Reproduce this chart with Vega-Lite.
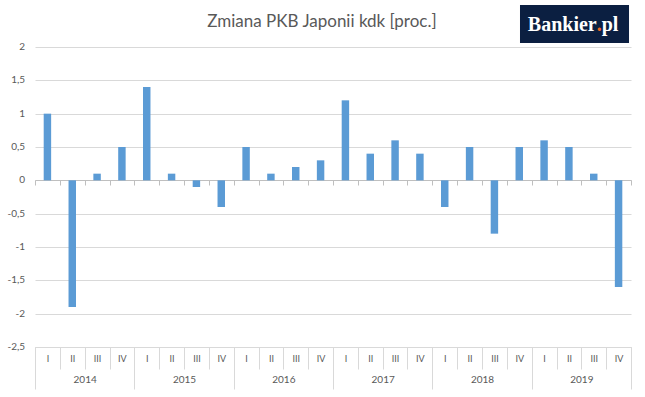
{
  "$schema": "https://vega.github.io/schema/vega-lite/v6.json",
  "width": 596,
  "height": 300,
  "autosize": {"type": "none"},
  "padding": {"left": 35, "top": 47, "right": 14, "bottom": 50},
  "background": "white",
  "config": {
    "view": {"stroke": null},
    "font": "Lato",
    "axis": {"labelFont": "Lato", "labelColor": "#595959"}
  },
  "title": {
    "text": "Zmiana PKB Japonii kdk [proc.]",
    "font": "Lato",
    "fontSize": 17,
    "fontWeight": "normal",
    "color": "#595959",
    "anchor": "middle",
    "frame": "group",
    "baseline": "alphabetic",
    "offset": -39,
    "dx": -11
  },
  "datasets": {
    "gdp": [
      {"key": "2014-I", "year": "2014", "value": 1.0},
      {"key": "2014-II", "year": "2014", "value": -1.9},
      {"key": "2014-III", "year": "2014", "value": 0.1},
      {"key": "2014-IV", "year": "2014", "value": 0.5},
      {"key": "2015-I", "year": "2015", "value": 1.4},
      {"key": "2015-II", "year": "2015", "value": 0.1},
      {"key": "2015-III", "year": "2015", "value": -0.1},
      {"key": "2015-IV", "year": "2015", "value": -0.4},
      {"key": "2016-I", "year": "2016", "value": 0.5},
      {"key": "2016-II", "year": "2016", "value": 0.1},
      {"key": "2016-III", "year": "2016", "value": 0.2},
      {"key": "2016-IV", "year": "2016", "value": 0.3},
      {"key": "2017-I", "year": "2017", "value": 1.2},
      {"key": "2017-II", "year": "2017", "value": 0.4},
      {"key": "2017-III", "year": "2017", "value": 0.6},
      {"key": "2017-IV", "year": "2017", "value": 0.4},
      {"key": "2018-I", "year": "2018", "value": -0.4},
      {"key": "2018-II", "year": "2018", "value": 0.5},
      {"key": "2018-III", "year": "2018", "value": -0.8},
      {"key": "2018-IV", "year": "2018", "value": 0.5},
      {"key": "2019-I", "year": "2019", "value": 0.6},
      {"key": "2019-II", "year": "2019", "value": 0.5},
      {"key": "2019-III", "year": "2019", "value": 0.1},
      {"key": "2019-IV", "year": "2019", "value": -1.6}
    ],
    "years": [
      {"year": "2014"}, {"year": "2015"}, {"year": "2016"},
      {"year": "2017"}, {"year": "2018"}, {"year": "2019"}
    ],
    "yticks": [
      {"v": 2, "label": "2"},
      {"v": 1.5, "label": "1,5"},
      {"v": 1, "label": "1"},
      {"v": 0.5, "label": "0,5"},
      {"v": 0, "label": "0"},
      {"v": -0.5, "label": "-0,5"},
      {"v": -1, "label": "-1"},
      {"v": -1.5, "label": "-1,5"},
      {"v": -2, "label": "-2"},
      {"v": -2.5, "label": "-2,5"}
    ],
    "logo": [{"brand": "Bankier", "dot": ".", "tld": "pl"}]
  },
  "resolve": {"scale": {"x": "independent"}, "axis": {"x": "independent"}},
  "layer": [
    {
      "data": {"name": "gdp"},
      "mark": {"type": "bar", "color": "#5b9bd5", "width": {"band": 0.3}},
      "encoding": {
        "x": {
          "field": "key", "type": "nominal", "sort": null,
          "scale": {"paddingInner": 0, "paddingOuter": 0},
          "axis": {
            "orient": "bottom", "title": null, "labelAngle": 0,
            "labelExpr": "split(datum.value, '-')[1]",
            "tickBand": "extent", "tickSize": 22, "tickColor": "#d9d9d9",
            "domainColor": "#d9d9d9", "labelPadding": -11, "labelBaseline": "middle",
            "labelFontSize": 9, "grid": false
          }
        },
        "y": {
          "field": "value", "type": "quantitative",
          "scale": {"domain": [-2.5, 2], "nice": false, "zero": false},
          "axis": {
            "title": null, "values": [-2.5, -2, -1.5, -1, -0.5, 0, 0.5, 1, 1.5, 2],
            "tickCount": 20, "labels": false,
            "grid": true, "gridColor": "#d9d9d9", "domain": false, "ticks": false
          }
        }
      }
    },
    {
      "data": {"name": "gdp"},
      "mark": {"type": "point", "opacity": 0},
      "encoding": {
        "x": {
          "field": "key", "type": "nominal", "sort": null,
          "scale": {"paddingInner": 0, "paddingOuter": 0},
          "axis": {
            "orient": "bottom", "offset": -167, "title": null, "labels": false,
            "tickBand": "extent", "tickSize": 5, "tickColor": "#bfbfbf",
            "domainColor": "#bfbfbf", "grid": false
          }
        },
        "y": {"field": "value", "type": "quantitative"}
      }
    },
    {
      "data": {"name": "years"},
      "mark": {"type": "point", "opacity": 0},
      "encoding": {
        "x": {
          "field": "year", "type": "nominal", "sort": null,
          "scale": {"paddingInner": 0, "paddingOuter": 0},
          "axis": {
            "orient": "bottom", "title": null, "labelAngle": 0,
            "tickBand": "extent", "tickSize": 42, "tickColor": "#d9d9d9",
            "domain": false, "labelPadding": -10, "labelBaseline": "middle",
            "labelFontSize": 10, "grid": false
          }
        },
        "y": {"datum": 0, "type": "quantitative"}
      }
    },
    {
      "data": {"name": "yticks"},
      "mark": {"type": "text", "color": "#595959", "font": "Lato", "fontSize": 10, "align": "right", "baseline": "middle"},
      "encoding": {
        "x": {"datum": -0.4, "type": "quantitative", "scale": {"domain": [0, 24]}, "axis": null},
        "y": {"field": "v", "type": "quantitative"},
        "text": {"field": "label"}
      }
    },
    {
      "data": {"name": "logo"},
      "mark": {"type": "rect", "color": "#0b1f41"},
      "encoding": {
        "x": {"datum": 19.53, "type": "quantitative", "scale": {"domain": [0, 24]}, "axis": null},
        "x2": {"datum": 23.92},
        "y": {"datum": 2.06, "type": "quantitative"},
        "y2": {"datum": 2.63}
      }
    },
    {
      "data": {"name": "logo"},
      "mark": {"type": "text", "color": "white", "font": "Liberation Serif", "fontWeight": "bold", "fontSize": 20, "baseline": "alphabetic", "align": "right"},
      "encoding": {
        "x": {"datum": 22.62, "type": "quantitative", "scale": {"domain": [0, 24]}, "axis": null},
        "y": {"datum": 2.24, "type": "quantitative"},
        "text": {"field": "brand"}
      }
    },
    {
      "data": {"name": "logo"},
      "mark": {"type": "text", "color": "#f26522", "font": "Liberation Serif", "fontWeight": "bold", "fontSize": 20, "baseline": "alphabetic", "align": "left"},
      "encoding": {
        "x": {"datum": 22.62, "type": "quantitative", "scale": {"domain": [0, 24]}, "axis": null},
        "y": {"datum": 2.24, "type": "quantitative"},
        "text": {"field": "dot"}
      }
    },
    {
      "data": {"name": "logo"},
      "mark": {"type": "text", "color": "white", "font": "Liberation Serif", "fontWeight": "bold", "fontSize": 20, "baseline": "alphabetic", "align": "left", "dx": 5},
      "encoding": {
        "x": {"datum": 22.62, "type": "quantitative", "scale": {"domain": [0, 24]}, "axis": null},
        "y": {"datum": 2.24, "type": "quantitative"},
        "text": {"field": "tld"}
      }
    }
  ]
}
